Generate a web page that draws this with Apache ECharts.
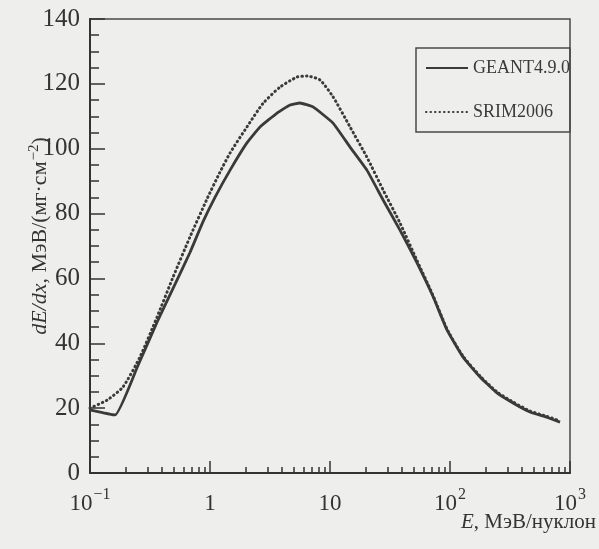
<!DOCTYPE html>
<html>
<head>
<meta charset="utf-8">
<script src="https://cdn.jsdelivr.net/npm/echarts@6/dist/echarts.min.js"></script>
<style>
  html, body { margin: 0; padding: 0; background: #eeeeec; }
  #chart { width: 599px; height: 549px; }
</style>
</head>
<body>
<div id="chart"></div>
<script>
// ---- data ----
const energyGeant = [0.1, 0.162, 0.25, 0.362, 0.5, 0.681, 0.875, 1.1, 1.47, 2.03, 2.61, 3.62, 4.64, 5.62, 7.22, 10.6, 14.7, 20.3, 27.7, 38.3, 53.1, 72.1, 94.4, 128, 178, 246, 335, 464, 640, 826];
const dedxGeant   = [19.5, 17.9, 33, 46.5, 57.5, 68, 77.5, 85, 93.4, 101.8, 106.7, 111, 113.5, 114.1, 112.9, 107.9, 100.5, 93.4, 84.2, 74.9, 64.8, 54.5, 44.1, 35.8, 29.6, 24.7, 21.6, 18.8, 17.2, 15.7];

const energySrim = [0.1, 0.139, 0.188, 0.261, 0.362, 0.492, 0.681, 0.944, 1.2, 1.47, 2.03, 2.77, 3.83, 5.31, 6.43, 8.25, 10.6, 14.7, 20.3, 27.7, 38.3, 53.1, 72.1, 94.4, 128, 178, 246, 335, 464, 640, 826];
const dedxSrim   = [20, 22.5, 26.5, 35.8, 48.1, 60.4, 72.8, 84.5, 92.5, 98.7, 106.7, 114, 119, 122.1, 122.4, 121.2, 116, 106.7, 97.4, 87.3, 77.1, 65.5, 54.8, 44.4, 36.1, 29.9, 25, 21.9, 19.1, 17.5, 16];

const seriesNames = ['GEANT4.9.0', 'SRIM2006'];
const yTicks = [0, 20, 40, 60, 80, 100, 120, 140];
const xMajorTicks = [0.1, 1, 10, 100, 1000];
const xTickLabels = { '0.1': ['10', '\u22121'], '1': ['1', ''], '10': ['10', ''], '100': ['10', '2'], '1000': ['10', '3'] };
const xMinorTicks = [];
[0.1, 1, 10, 100].forEach(function (d) { for (let k = 2; k <= 9; k++) xMinorTicks.push(+(d * k).toPrecision(3)); });
const xAxisTitle = '{i|E}{n|, МэВ/нуклон}';

// ---- chart ----
const ink = '#333333';
const font = 'Liberation Serif';
const chart = echarts.init(document.getElementById('chart'), null, { renderer: 'canvas' });

const pairs = (xs, ys) => xs.map((x, i) => [x, ys[i]]);

chart.setOption({
  backgroundColor: '#eeeeec',
  animation: false,
  textStyle: { fontFamily: font, color: ink },
  grid: { left: 90, right: 29, top: 19, bottom: 76, outerBoundsMode: 'none', containLabel: false,
    show: true, borderColor: '#4a4a4a', borderWidth: 1.5, backgroundColor: 'transparent' },
  legend: {
    orient: 'vertical',
    left: 416, top: 48,
    padding: [10, 0, 10, 9],
    itemWidth: 42, itemHeight: 20, itemGap: 24,
    borderColor: '#4a4a4a', borderWidth: 1.5,
    itemStyle: { opacity: 0 },
    textStyle: { fontFamily: font, fontSize: 18, color: '#3a3a3a', lineHeight: 20 },
    data: seriesNames
  },
  graphic: [{
    type: 'text',
    right: 3, top: 512,
    style: {
      text: xAxisTitle,
      fill: ink,
      rich: {
        i: { fontFamily: font, fontStyle: 'italic', fontSize: 21, fill: ink },
        n: { fontFamily: font, fontSize: 21, fill: ink }
      }
    }
  }],
  xAxis: [{
    type: 'log', logBase: 10, min: 0.1, max: 1000,
    axisLine: { show: true, lineStyle: { color: ink, width: 2 } },
    axisTick: { show: true, inside: true, length: 12, lineStyle: { color: ink, width: 1.5 } },
    minorTick: { show: false },
    splitLine: { show: false },
    axisLabel: {
      margin: 14,
      formatter: function (v) {
        const key = String(+v.toPrecision(3));
        const t = xTickLabels[key];
        if (!t) return '';
        return t[1] ? '{b|' + t[0] + '}{s|' + t[1] + '}' : '{b|' + t[0] + '}';
      },
      rich: {
        b: { fontFamily: font, fontSize: 23, color: ink, verticalAlign: 'bottom', lineHeight: 28 },
        s: { fontFamily: font, fontSize: 16, color: ink, verticalAlign: 'top', lineHeight: 28, padding: [0, 0, 11, 1] }
      }
    }
  }, {
    type: 'log', logBase: 10, min: 0.1, max: 1000, position: 'bottom',
    axisLine: { show: false },
    axisTick: { show: true, inside: true, length: 6, customValues: xMinorTicks, lineStyle: { color: ink, width: 1.5 } },
    axisLabel: { show: false },
    splitLine: { show: false }
  }],
  yAxis: {
    type: 'value', min: 0, max: 140, interval: 20,
    axisLine: { show: true, lineStyle: { color: ink, width: 2 } },
    axisTick: { show: true, inside: true, length: 15, lineStyle: { color: ink, width: 1.5 } },
    minorTick: { show: true, splitNumber: 4, length: 9, lineStyle: { color: ink, width: 1.5 } },
    splitLine: { show: false },
    axisLabel: { margin: 10, fontFamily: font, fontSize: 25, color: ink,
      formatter: function (v) { return yTicks.indexOf(v) >= 0 ? String(v) : ''; } },
    name: '{i|dE/dx}{n|, МэВ/(мг·см}{s|\u22122}{n|)}',
    nameLocation: 'middle',
    nameRotate: 90,
    nameGap: 37,
    nameMoveOverlap: false,
    nameTextStyle: {
      padding: [0, 0, 0, 20],
      rich: {
        i: { fontFamily: font, fontStyle: 'italic', fontSize: 22, color: ink, lineHeight: 26 },
        n: { fontFamily: font, fontSize: 22, color: ink, lineHeight: 26 },
        s: { fontFamily: font, fontSize: 15, color: ink, verticalAlign: 'top', lineHeight: 26, padding: [0, 0, 10, 1] }
      }
    }
  },
  series: [{
    name: seriesNames[0], type: 'line', xAxisIndex: 0, showSymbol: false, symbol: 'none', smooth: 0.12,
    lineStyle: { color: '#3a3a3a', width: 2.8 },
    itemStyle: { color: '#3a3a3a' },
    data: pairs(energyGeant, dedxGeant)
  }, {
    name: seriesNames[1], type: 'line', xAxisIndex: 0, showSymbol: false, symbol: 'none', smooth: 0.2,
    lineStyle: { color: '#3a3a3a', width: 3, type: [0.5, 4], cap: 'round' },
    itemStyle: { color: '#3a3a3a' },
    data: pairs(energySrim, dedxSrim)
  }]
});
</script>
</body>
</html>
